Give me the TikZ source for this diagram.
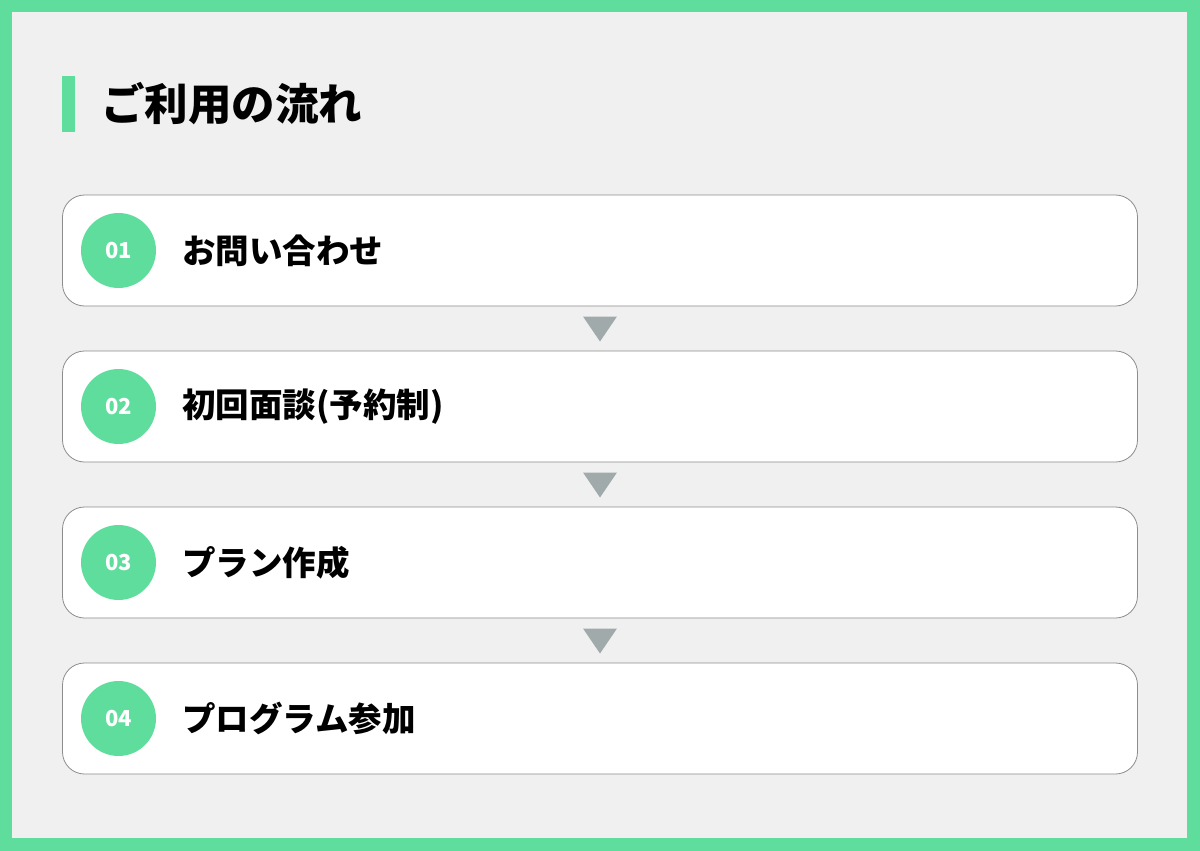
\documentclass[tikz,border=0pt]{standalone}
\usepackage{fontspec}
\setmainfont{Noto Sans CJK JP}
\usetikzlibrary{calc}
\definecolor{mint}{HTML}{5FDD9D}
\definecolor{paper}{HTML}{F0F0F0}
\definecolor{arrowgray}{HTML}{A0AAAB}
\definecolor{linegray}{HTML}{8C8C8C}
\tikzset{
	stepbox/.style={draw=linegray,line width=0.8pt,fill=white,rounded corners=22pt,minimum width=1075pt,minimum height=111pt},
	numdot/.style={circle,fill=mint,minimum size=75pt,inner sep=0pt,text=white,font=\fontsize{22}{22}\selectfont\bfseries},
	steptext/.style={anchor=west,inner sep=0pt,font=\fontsize{33.5}{33.5}\selectfont\bfseries}
}
\begin{document}
\begin{tikzpicture}[x=1pt,y=-1pt]
	\fill[mint] (0,0) rectangle (1200,851);
	\fill[paper] (12,12) rectangle (1187,838);
	% title
	\fill[mint] (62,76) rectangle (75,132);
	\node[anchor=west,inner sep=0pt,font=\fontsize{43.5}{43.5}\selectfont\bfseries] (title) at (101,104) {ご利用の流れ};
	% steps
	\foreach \i/\t in {1/お問い合わせ,2/初回面談(予約制),3/プラン作成,4/プログラム参加}{
		\node[stepbox] (s\i) at (600,250.5+156*\i-156) {};
		\node[numdot] (n\i) at (118.5,250.5+156*\i-156) {0\i};
		\node[steptext] (t\i) at (182,250.5+156*\i-156) {\t};
	}
	% arrows between steps
	\foreach \i/\j in {1/2,2/3,3/4}{
		\coordinate (m\i) at ($(s\i.south)!.5!(s\j.north)$);
		\fill[arrowgray] (m\i) ++(-17,-12) -- ++(34,0) -- ++(-17,25) -- cycle;
	}
\end{tikzpicture}
\end{document}
